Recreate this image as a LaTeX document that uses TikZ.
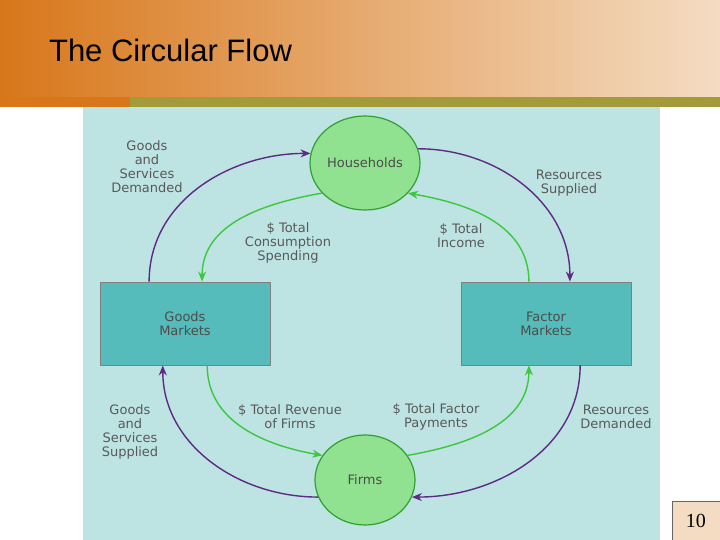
\documentclass[tikz,border=0pt]{standalone}
\usepackage{fontspec}
\setmainfont{DejaVu Sans}
\newfontfamily\titlefont{Liberation Sans}
\newfontfamily\numfont{Liberation Serif}
\usetikzlibrary{calc,arrows.meta,shapes.geometric}
\definecolor{panel}{HTML}{BDE3E3}
\definecolor{market}{HTML}{55BBBB}
\definecolor{agent}{HTML}{90E290}
\definecolor{goods}{HTML}{5E2A84}
\definecolor{money}{HTML}{3CC83C}
\definecolor{headL}{HTML}{D8771A}
\definecolor{headR}{HTML}{F4DCC2}
\definecolor{olive}{HTML}{A39A3A}
\begin{document}
\begin{tikzpicture}[x=0.5pt,y=-0.5pt,
  agentnode/.style={ellipse,draw=money!80!black,fill=agent,line width=0.6pt,inner sep=0pt,font=\fontsize{6.5}{7}\selectfont,text=black!70},
  marketnode/.style={rectangle,draw=black!50,fill=market,minimum width=85pt,minimum height=41.5pt,font=\fontsize{6.5}{7}\selectfont,text=black!70,align=center},
  lbl/.style={font=\fontsize{6.5}{7}\selectfont,text=black!65,align=center},
  flowg/.style={draw=goods,line width=0.7pt,-{Stealth[length=5pt,width=4pt]}},
  flowm/.style={draw=money,line width=0.7pt,-{Stealth[length=5pt,width=4pt]}}]
\useasboundingbox (0,0) rectangle (720,540);
% Header
\shade[left color=headL,right color=headR] (0,0) rectangle (720,97);
\fill[headL] (0,97) rectangle (130,107);
\fill[olive] (130,97) rectangle (720,107);
\node[anchor=west,font=\titlefont\fontsize{15.5}{17}\selectfont] (title) at (42,50) {The Circular Flow};
% Panel
\fill[panel] (83,107) rectangle (660,540);
% Place nodes
\node[agentnode,minimum width=55pt,minimum height=47pt] (hh) at (365,163) {Households};
\node[agentnode,minimum width=50pt,minimum height=45pt] (firms) at (365,480) {Firms};
\node[marketnode] (gm) at (185,323.5) {Goods\\Markets};
\node[marketnode] (fm) at (546,323.5) {Factor\\Markets};
% Flows
\draw[flowg] ($(gm.north west)!0.29!(gm.north east)$) to[out=90,in=180] (hh.170);
\draw[flowg] (hh.15) to[out=0,in=90] ($(fm.north west)!0.64!(fm.north east)$);
\draw[flowm] ($(fm.north west)!0.4!(fm.north east)$) to[out=90,in=-10] (hh.-35);
\draw[flowm] (hh.-145) to[out=190,in=90] ($(gm.north west)!0.6!(gm.north east)$);
\draw[flowm] ($(gm.south west)!0.63!(gm.south east)$) to[out=-90,in=170] (firms.150);
\draw[flowm] (firms.30) to[out=10,in=-90] ($(fm.south west)!0.4!(fm.south east)$);
\draw[flowg] ($(fm.south west)!0.7!(fm.south east)$) to[out=-90,in=0] (firms.-20);
\draw[flowg] (firms.-160) to[out=180,in=-90] ($(gm.south west)!0.37!(gm.south east)$);
% Labels
\node[lbl] (l1) at (147,167) {Goods\\and\\Services\\Demanded};
\node[lbl] (l2) at (569,183) {Resources\\Supplied};
\node[lbl] (l3) at (288,243) {\$ Total\\Consumption\\Spending};
\node[lbl] (l4) at (461,236) {\$ Total\\Income};
\node[lbl] (l5) at (130,432) {Goods\\and\\Services\\Supplied};
\node[lbl] (l6) at (290,417) {\$ Total Revenue\\of Firms};
\node[lbl] (l7) at (436,417) {\$ Total Factor\\Payments};
\node[lbl] (l8) at (616,417) {Resources\\Demanded};
% Page number
\node[draw=black!60,fill=headR,minimum width=24pt,minimum height=20pt,font=\numfont\fontsize{10}{12}\selectfont] (page) at (696,521) {10};
\end{tikzpicture}
\end{document}
